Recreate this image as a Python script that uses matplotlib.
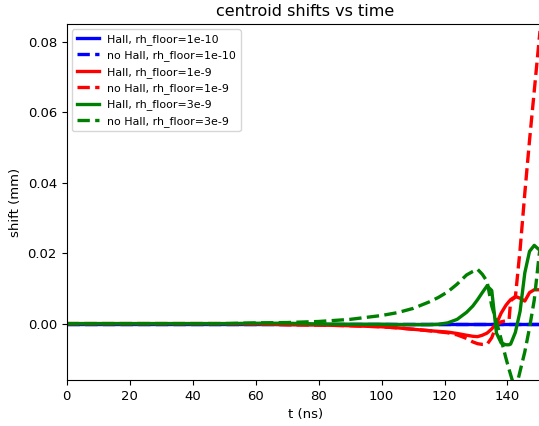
#!/usr/bin/env python3

import matplotlib
matplotlib.use('Agg')
import matplotlib.pyplot as plt
import numpy as np

# centroid shift of the plasma vs time, with and without the Hall term,
# for three resistivity floor settings

t_ns = [0, 10, 20, 30, 40, 50, 60, 70, 80, 90, 100, 105, 110, 115, 118,
        121, 124, 127, 129, 130.5, 132, 133.5, 135, 136.5, 138, 139.5,
        140.5, 141, 142.5, 144, 145.5, 147, 148.5, 150, 151.5]

hall_1e10 = [0.0] * len(t_ns)
nohall_1e10 = [0.0] * len(t_ns)

hall_1e9 = [0, 0, 0, 0, 0, 0, -0.0001, -0.0003, -0.0004, -0.0006, -0.0009,
            -0.0012, -0.0016, -0.0020, -0.0022, -0.0024, -0.0028, -0.0033,
            -0.0036, -0.0037, -0.0033, -0.0027, -0.0015, 0.0000, 0.0030,
            0.0052, 0.0063, 0.0068, 0.0077, 0.0072, 0.0064, 0.0088, 0.0096,
            0.0096, 0.0096]

nohall_1e9 = [0, 0, 0, 0, 0, 0, -0.0001, -0.0003, -0.0004, -0.0006, -0.0009,
              -0.0012, -0.0016, -0.0020, -0.0023, -0.0026, -0.0032, -0.0042,
              -0.0052, -0.0057, -0.0059, -0.0059, -0.0040, -0.0005, 0.0005,
              0.0008, 0.0010, 0.0065, 0.0075, 0.0210, 0.0370, 0.0520, 0.0660,
              0.0800, 0.0940]

hall_3e9 = [0, 0, 0, 0, 0, 0, 0.0001, 0.0001, -0.0001, -0.0002, -0.0002,
            -0.0003, -0.0003, -0.0003, -0.0002, 0.0002, 0.0012, 0.0032,
            0.0050, 0.0068, 0.0088, 0.0107, 0.0094, -0.0027, -0.0055, -0.0060,
            -0.0060, -0.0058, -0.0025, 0.0035, 0.0144, 0.0205, 0.0222, 0.0210,
            0.0205]

nohall_3e9 = [0, 0, 0, 0, 0, 0, 0.0002, 0.0003, 0.0006, 0.0012, 0.0023,
              0.0031, 0.0043, 0.0061, 0.0074, 0.0090, 0.0112, 0.0138, 0.0148,
              0.0154, 0.0140, 0.0120, 0.0050, 0.0005, -0.0045, -0.0098,
              -0.0130, -0.0145, -0.0190, -0.0135, -0.0080, -0.0012, 0.0067,
              0.0190, 0.0300]

series = [
    ('Hall, rh_floor=1e-10', hall_1e10, 'blue', '-'),
    ('no Hall, rh_floor=1e-10', nohall_1e10, 'blue', '--'),
    ('Hall, rh_floor=1e-9', hall_1e9, 'red', '-'),
    ('no Hall, rh_floor=1e-9', nohall_1e9, 'red', '--'),
    ('Hall, rh_floor=3e-9', hall_3e9, 'green', '-'),
    ('no Hall, rh_floor=3e-9', nohall_3e9, 'green', '--'),
]

fig = plt.figure(figsize=(5.39, 4.26), dpi=100)
ax = fig.add_axes([66.7 / 539, 46 / 426, 477 / 539, 356 / 426])

t = np.array(t_ns)
for label, vals, color, ls in series:
    ax.plot(t, vals, color=color, linestyle=ls, linewidth=2.4, label=label)

ax.set_xlim(0, t[-1])
ax.set_ylim(-0.016, 0.085)
ax.set_xticks([0, 20, 40, 60, 80, 100, 120, 140])
ax.set_yticks([0.0, 0.02, 0.04, 0.06, 0.08])
ax.tick_params(labelsize=9.5)

ax.set_xlabel('t (ns)', fontsize=9.5)
ax.set_ylabel('shift (mm)', fontsize=9.5)
ax.set_title('centroid shifts vs time', fontsize=11.5)
ax.legend(loc='upper left', fontsize=7.9)

plt.savefig('out.png', dpi=100)
